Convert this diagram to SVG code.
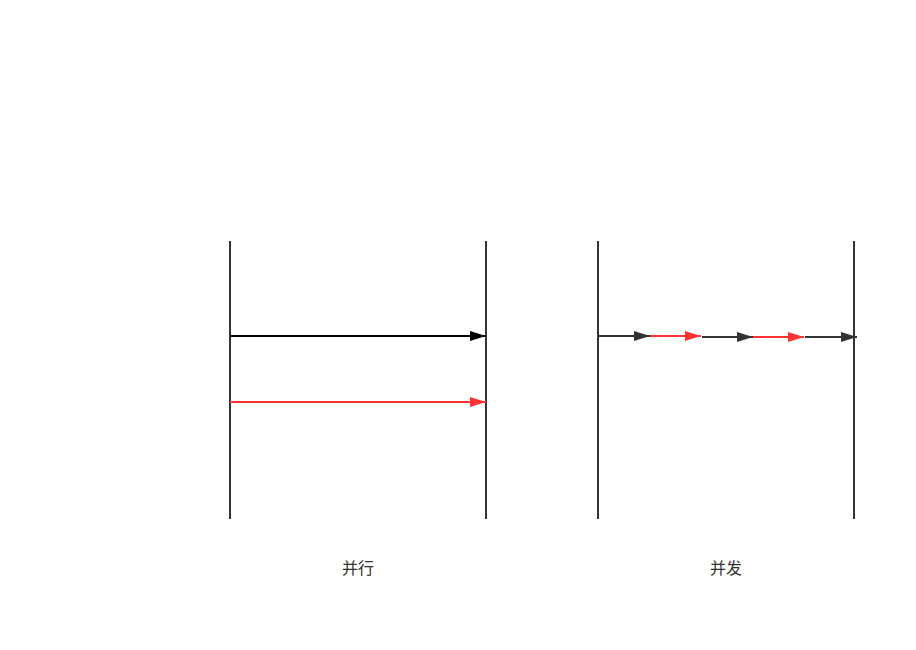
<svg xmlns="http://www.w3.org/2000/svg" width="916" height="650" viewBox="0 0 916 650">
<style>
.lane{stroke:#333;stroke-width:2;fill:none}
.blk{stroke:#000;stroke-width:2;fill:none}
.dk{stroke:#333;stroke-width:2;fill:none}
.red{stroke:#ff3333;stroke-width:2;fill:none}
.lbl{font-family:"Liberation Sans","Noto Sans CJK SC",sans-serif;font-size:16px;fill:#333;text-anchor:middle}
</style>
<defs>
<marker id="mBlk" markerWidth="8" markerHeight="5" refX="8" refY="2.5" orient="auto" markerUnits="strokeWidth"><path d="M0,0 L8,2.5 L0,5 Z" fill="#000"/></marker>
<marker id="mDk" markerWidth="8" markerHeight="5" refX="8" refY="2.5" orient="auto" markerUnits="strokeWidth"><path d="M0,0 L8,2.5 L0,5 Z" fill="#333"/></marker>
<marker id="mRed" markerWidth="8" markerHeight="5" refX="8" refY="2.5" orient="auto" markerUnits="strokeWidth"><path d="M0,0 L8,2.5 L0,5 Z" fill="#ff3333"/></marker>
</defs>
<g id="lanes">
<line class="lane" x1="230" y1="241" x2="230" y2="519"/>
<line class="lane" x1="486" y1="241" x2="486" y2="519"/>
<line class="lane" x1="598" y1="241" x2="598" y2="519"/>
<line class="lane" x1="854" y1="241" x2="854" y2="519"/>
</g>
<g id="connectors">
<line class="blk" x1="230" y1="336" x2="486" y2="336" marker-end="url(#mBlk)"/>
<line class="red" x1="230" y1="402" x2="486" y2="402" marker-end="url(#mRed)"/>
<line class="dk" x1="598" y1="336" x2="650" y2="336" marker-end="url(#mDk)"/>
<line class="red" x1="650" y1="336" x2="701" y2="336" marker-end="url(#mRed)"/>
<line class="dk" x1="702" y1="337" x2="753" y2="337" marker-end="url(#mDk)"/>
<line class="red" x1="753" y1="337" x2="804" y2="337" marker-end="url(#mRed)"/>
<line class="dk" x1="805" y1="337" x2="857" y2="337" marker-end="url(#mDk)"/>
</g>
<g id="label-parallel"><text class="lbl" x="358" y="574">并行</text></g>
<g id="label-concurrent"><text class="lbl" x="726" y="574">并发</text></g>
</svg>
